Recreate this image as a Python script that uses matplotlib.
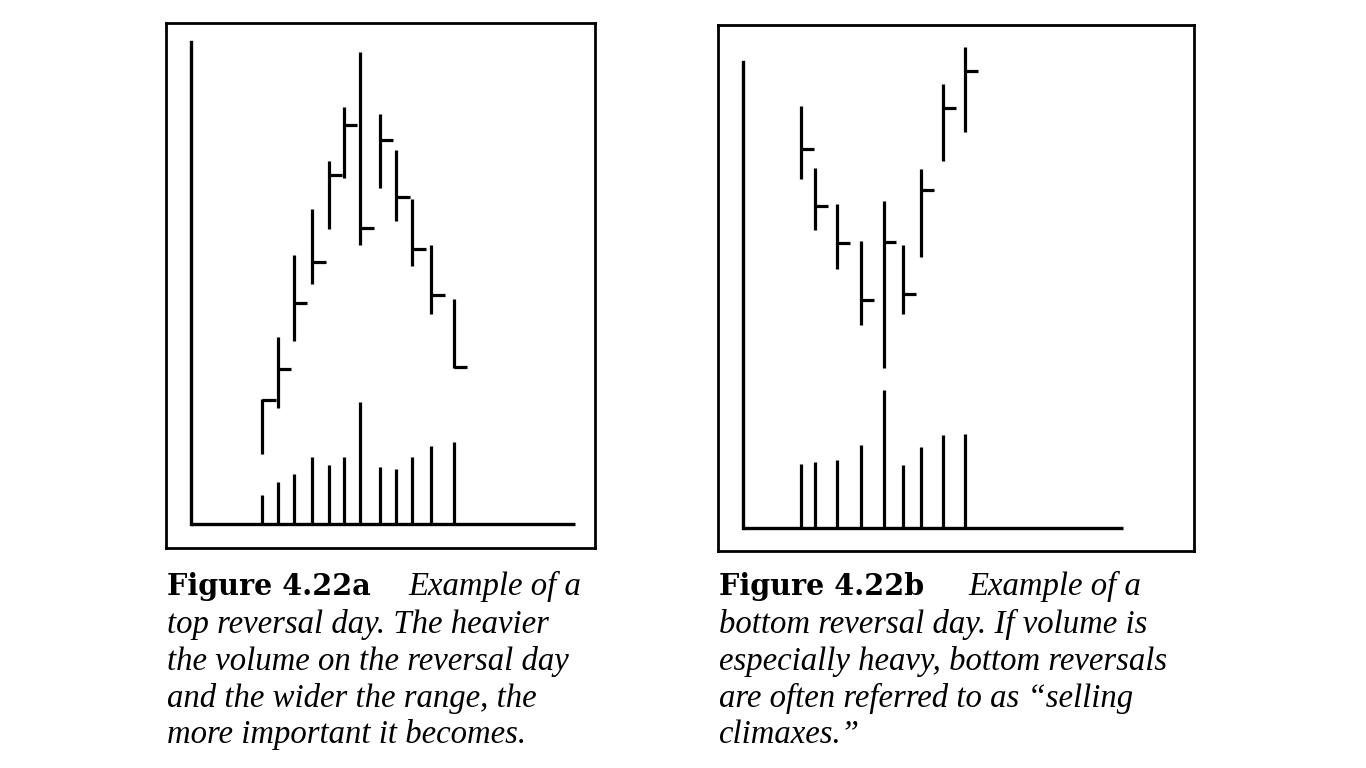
import matplotlib.pyplot as plt

# Figure 4.22a - top reversal day (positions and prices)
days_a = [1.0, 1.9, 2.82, 3.87, 4.83, 5.69, 6.64, 7.75, 8.7, 9.6, 10.69, 11.99]
high_a = [36.3, 54.1, 77.9, 91.1, 105.1, 120.8, 136.6, 118.6, 108.4, 94.1, 80.8, 65.1]
low_a = [20.3, 33.6, 52.9, 69.6, 85.4, 100.1, 80.8, 97.3, 87.8, 74.6, 60.9, 45.3]
close_a = [36.1, 44.8, 64.1, 75.8, 101.1, 115.6, 85.8, 111.1, 94.6, 79.8, 66.4, 45.6]
volume_a = [8.4, 12.1, 14.6, 19.4, 17.3, 19.4, 35.4, 16.6, 16.1, 19.4, 22.6, 23.8]

# Figure 4.22b - bottom reversal day
days_b = [1.0, 1.72, 2.79, 3.93, 5.04, 6.01, 6.89, 7.96, 9.0]
high_b = [122.2, 104.2, 94.0, 83.2, 94.7, 81.9, 103.9, 128.7, 139.4]
low_b = [101.0, 86.2, 75.0, 58.7, 46.4, 61.9, 78.4, 106.4, 114.7]
close_b = [109.7, 93.2, 82.7, 66.0, 83.0, 67.7, 97.9, 121.7, 132.5]
volume_b = [18.6, 19.0, 19.6, 24.0, 39.8, 18.1, 23.3, 26.8, 27.1]

caption_a = ["top reversal day. The heavier",
             "the volume on the reversal day",
             "and the wider the range, the",
             "more important it becomes."]
caption_b = ["bottom reversal day. If volume is",
             "especially heavy, bottom reversals",
             "are often referred to as \u201cselling",
             "climaxes.\u201d"]

W, H = 1366, 768
fig = plt.figure(figsize=(W / 100, H / 100), dpi=100)


def px_axes(left, top, right, bottom):
    return fig.add_axes([left / W, 1 - bottom / H, (right - left) / W, (bottom - top) / H])


def draw_panel(ax, days, high, low, close, volume, xlim, ylim, y_axis_x, y_axis_top, x_axis_end, tick):
    lw = 2.3
    ax.vlines(days, low, high, color="black", lw=lw, capstyle="butt")
    ax.hlines(close, days, [d + tick for d in days], color="black", lw=lw, capstyle="butt")
    ax.vlines(days, 0, volume, color="black", lw=lw, capstyle="butt")
    ax.plot([y_axis_x, y_axis_x], [0, y_axis_top], color="black", lw=2.4, solid_capstyle="projecting")
    ax.plot([y_axis_x, x_axis_end], [0, 0], color="black", lw=2.4, solid_capstyle="butt")
    ax.set_xlim(*xlim)
    ax.set_ylim(*ylim)
    ax.set_xticks([])
    ax.set_yticks([])
    for s in ax.spines.values():
        s.set_linewidth(2.0)
        s.set_color("black")


ax_a = px_axes(165.7, 23.3, 595, 547.7)
draw_panel(ax_a, days_a, high_a, low_a, close_a, volume_a,
           xlim=(-4.52, 20.1), ylim=(-6.77, 144.97),
           y_axis_x=-3.07, y_axis_top=139.6, x_axis_end=18.96, tick=0.78)

ax_b = px_axes(717.7, 25, 1194, 550.7)
draw_panel(ax_b, days_b, high_b, low_b, close_b, volume_b,
           xlim=(-3.05, 20.19), ylim=(-6.67, 145.8),
           y_axis_x=-1.83, y_axis_top=135.0, x_axis_end=16.72, tick=0.63)

bold = dict(family="DejaVu Serif", weight="bold", size=20.6)
ital = dict(family="Liberation Serif", style="italic", size=23.6)

baselines = [595, 633, 670, 707, 743]


def caption(x0, x_second, label, lines):
    fig.text(x0 / W, 1 - baselines[0] / H, label, va="baseline", ha="left", **bold)
    fig.text(x_second / W, 1 - baselines[0] / H, "Example of a", va="baseline", ha="left", **ital)
    for y, line in zip(baselines[1:], lines):
        fig.text(x0 / W, 1 - y / H, line, va="baseline", ha="left", **ital)


caption(167, 408, "Figure 4.22a", caption_a)
caption(719, 968, "Figure 4.22b", caption_b)

fig.savefig("out.png", dpi=100)
